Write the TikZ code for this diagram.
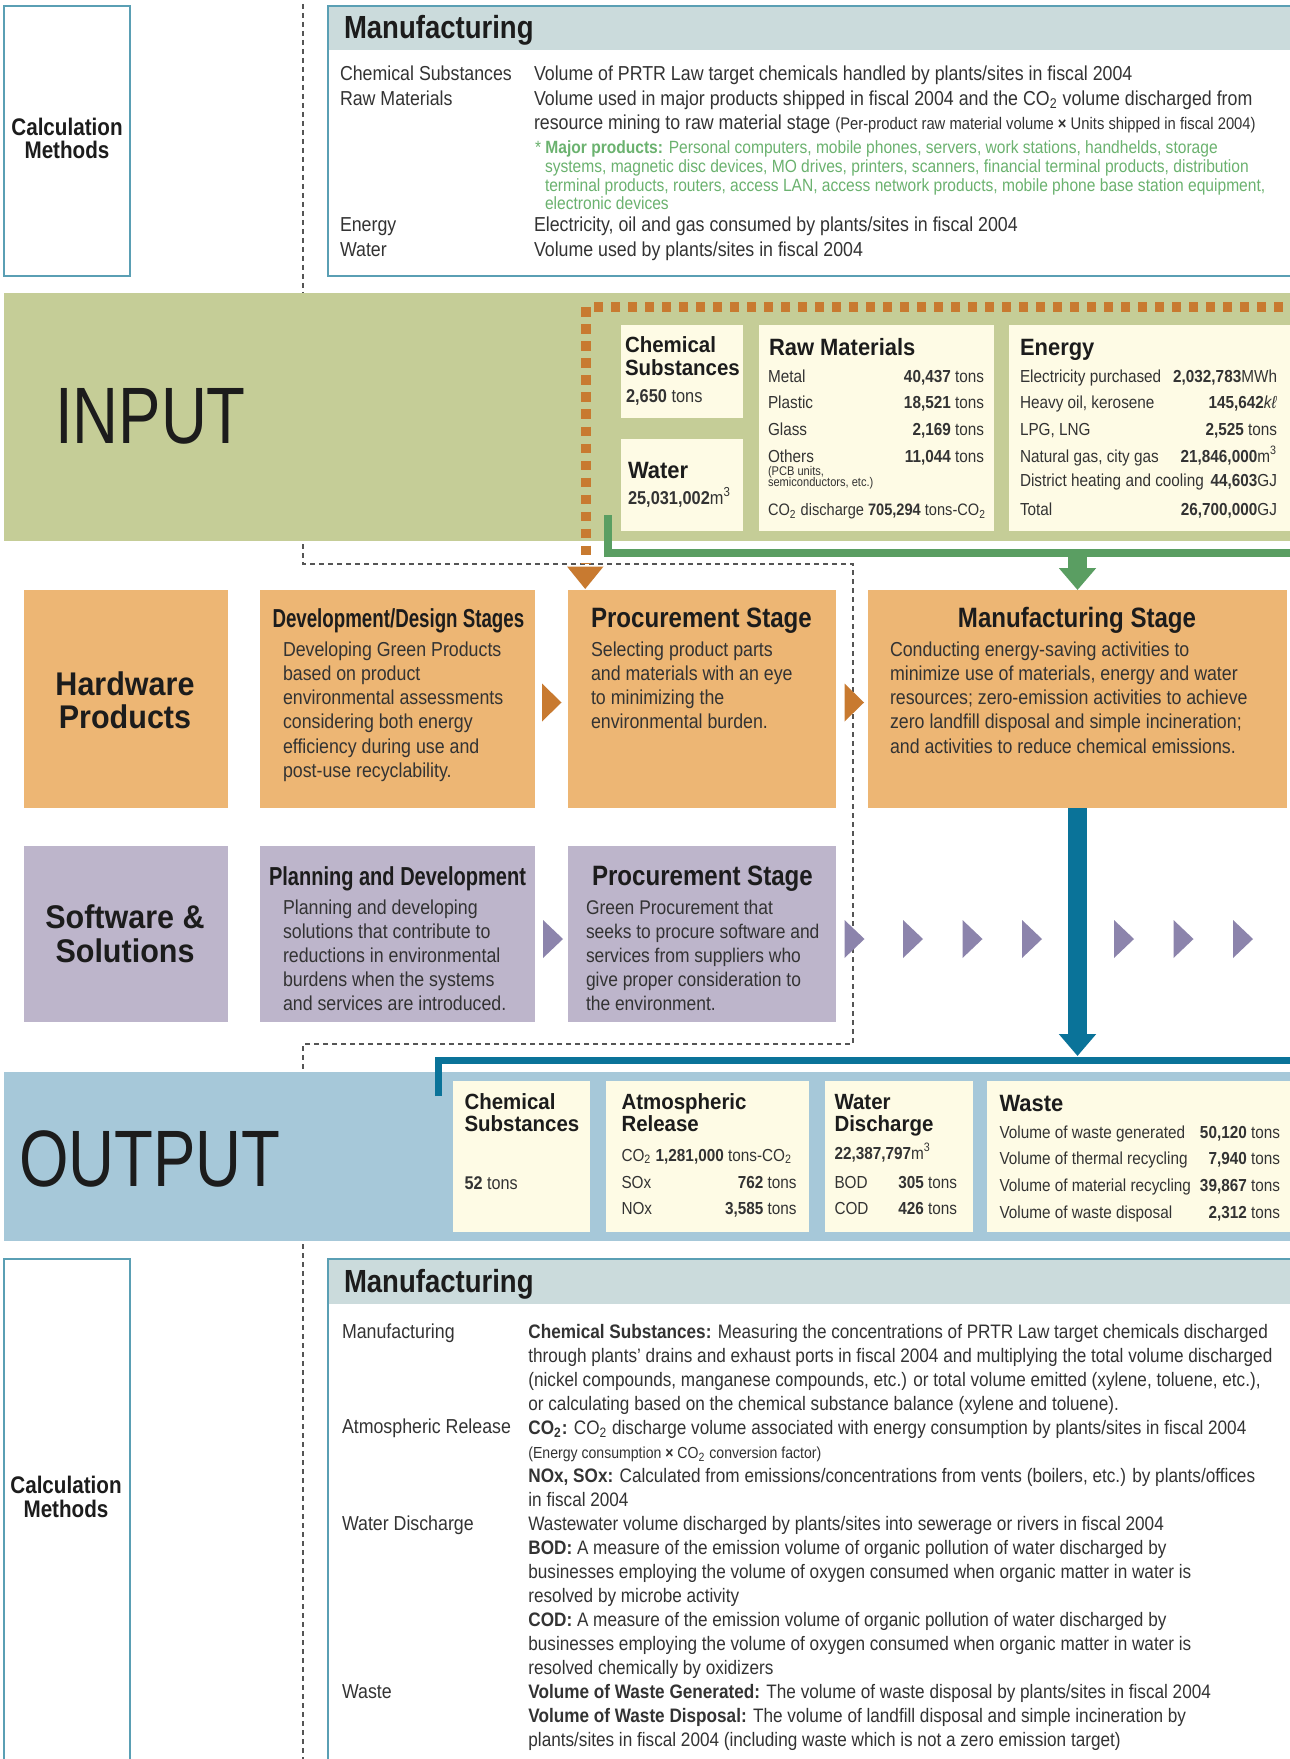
\documentclass[tikz,border=0pt]{standalone}
\usepackage{fontspec}
\setmainfont{Liberation Sans}[FakeStretch=0.88]
\newfontfamily\hdfont{Liberation Sans}[FakeStretch=0.86]
\newfontfamily\bxfont{Liberation Sans}[FakeStretch=0.93]
\newfontfamily\cnfont{Liberation Sans}[FakeStretch=0.72]
\newfontfamily\cnbfont{Liberation Sans}[FakeStretch=0.77]
\newfontfamily\bigfont{Liberation Sans}[FakeStretch=0.795]
\usetikzlibrary{arrows.meta}
\definecolor{cTeal}{HTML}{5A9FB4}
\definecolor{cHead}{HTML}{CBDBDC}
\definecolor{cIn}{HTML}{C5CD97}
\definecolor{cOr}{HTML}{C87A30}
\definecolor{cCream}{HTML}{FEFBE5}
\definecolor{cGreen}{HTML}{5A9E62}
\definecolor{cGreenTxt}{HTML}{6BB26F}
\definecolor{cOrBox}{HTML}{EDB674}
\definecolor{cPur}{HTML}{BDB5CB}
\definecolor{cPurA}{HTML}{8C84AC}
\definecolor{cBlue}{HTML}{0A7399}
\definecolor{cOut}{HTML}{A6C8D9}
\definecolor{cDash}{HTML}{555555}
\definecolor{cTxt}{HTML}{333333}
\definecolor{cHd}{HTML}{1C1C1C}
\begin{document}
\begin{tikzpicture}[x=0.5pt,y=-0.5pt,
  every node/.style={inner sep=0pt,outer sep=0pt},
  rbox/.style 2 args={anchor=north west,minimum width={#1*0.5pt},minimum height={#2*0.5pt}},
  tx/.style={anchor=base west,font=\fontsize{10.1}{12}\selectfont,text=cTxt},
  btx/.style={anchor=base west,font=\fontsize{9.75}{12}\selectfont,text=cTxt},
  gtx/.style={anchor=base west,font=\fontsize{8.85}{10}\selectfont,text=cGreenTxt},
  row/.style={anchor=base west,font=\fontsize{8.7}{10}\selectfont,text=cTxt},
  rowr/.style={anchor=base east,font=\fontsize{8.7}{10}\selectfont,text=cTxt},
  small/.style={anchor=base west,font=\fontsize{6.3}{7}\selectfont,text=cTxt},
  hd/.style={anchor=base west,font=\bxfont\bfseries\fontsize{11}{11}\selectfont,text=cHd},
  hdl/.style={anchor=base west,font=\bxfont\bfseries\fontsize{11.8}{11.8}\selectfont,text=cHd},
  mhd/.style={anchor=base west,font=\hdfont\bfseries\fontsize{16}{16}\selectfont,text=cHd},
  shd/.style={anchor=base west,font=\hdfont\bfseries\fontsize{14}{14}\selectfont,text=cHd},
  chd/.style={anchor=base west,font=\cnfont\bfseries\fontsize{13}{13}\selectfont,text=cHd},
  cat/.style={anchor=base,font=\bxfont\bfseries\fontsize{16.4}{16.4}\selectfont,text=cHd},
  calc/.style={anchor=base,font=\hdfont\bfseries\fontsize{12}{12}\selectfont,text=cHd},
  big/.style={anchor=base west,font=\bigfont\fontsize{40}{40}\selectfont,text=cHd},
  val/.style={anchor=base west,font=\fontsize{9.3}{11}\selectfont,text=cTxt},
  dashline/.style={cDash,line width=0.6pt,dash pattern=on 2.5pt off 2pt},
  odots/.style={cOr,line width=5pt,dash pattern=on 4.75pt off 3.75pt},
  fatarrow/.style={line width=9.5pt,-{Triangle[length=11pt,width=18pt]}}
]
\useasboundingbox (0,0) rectangle (1289,1759);
\fill[white] (0,0) rectangle (1289,1759);

% dashed separator
\coordinate (d0) at (303,-5);
\coordinate (d1) at (303,564);
\coordinate (d2) at (853,564);
\coordinate (d3) at (853,1044);
\coordinate (d4) at (303,1044);
\coordinate (d5) at (303,1765);
\draw[dashline] (d0) -- (d1) -- (d2) -- (d3) -- (d4) -- (d5);

% ===== top calculation methods =====
\node[rbox={126}{270},draw=cTeal,fill=white,line width=0.8pt] (calc1) at (4,6) {};
\node[calc] (calc1a) at (67,136) {Calculation};
\node[calc] (calc1b) at (67,159) {Methods};

\fill[cHead] (328,6) rectangle (1330,50);
\node[rbox={1000}{270},draw=cTeal,line width=0.8pt] (topm) at (328,6) {};
\node[mhd] (topmh) at (344,39) {Manufacturing};
\node[tx] (l1) at (340,81) {Chemical Substances};
\node[tx] (l2) at (340,105.5) {Raw Materials};
\node[tx] (l3) at (340,232) {Energy};
\node[tx] (l4) at (340,257) {Water};
\node[tx] (r1) at (534,81) {Volume of PRTR Law target chemicals handled by plants/sites in fiscal 2004};
\node[tx] (r2) at (534,105.5) {Volume used in major products shipped in fiscal 2004 and the CO\textsubscript{2} volume discharged from};
\node[tx] (r3) at (534,130) {resource mining to raw material stage {\fontsize{8.4}{10}\selectfont (Per-product raw material volume \textbf{×} Units shipped in fiscal 2004)}};
\node[gtx] (g1) at (535,154) {* \textbf{Major products:} Personal computers, mobile phones, servers, work stations, handhelds, storage};
\node[gtx] (g2) at (545,173) {systems, magnetic disc devices, MO drives, printers, scanners, financial terminal products, distribution};
\node[gtx] (g3) at (545,192) {terminal products, routers, access LAN, access network products, mobile phone base station equipment,};
\node[gtx] (g4) at (545,210) {electronic devices};
\node[tx] (r4) at (534,232) {Electricity, oil and gas consumed by plants/sites in fiscal 2004};
\node[tx] (r5) at (534,257) {Volume used by plants/sites in fiscal 2004};

% ===== INPUT band =====
\node[rbox={1300}{248},fill=cIn] (inband) at (4,293) {};
\node[big] (inputt) at (55,444) {INPUT};
\coordinate (o0) at (1300,307.5);
\coordinate (o1) at (586,307.5);
\coordinate (o2) at (586,563);
\draw[odots] (o0) -- (o1) -- (o2);

\node[rbox={122}{93},fill=cCream] (inchem) at (620.5,325) {};
\node[rbox={122}{92},fill=cCream] (inwater) at (620.5,439) {};
\node[rbox={235}{206},fill=cCream] (inraw) at (758.5,325) {};
\node[rbox={320}{206},fill=cCream] (inen) at (1008.5,325) {};

\node[hd] (ich1) at (625,353) {Chemical};
\node[hd] (ich2) at (625,375.5) {Substances};
\node[val] (ich3) at (626,402.5) {\textbf{2,650} tons};
\node[hdl] (iw1) at (628,479) {Water};
\node[val] (iw2) at (628,504) {\textbf{25,031,002}m\textsuperscript{3}};

\node[hdl] (irh) at (769,356) {Raw Materials};
\node[row] (ir1) at (768,382.7) {Metal};
\node[rowr] (ir1v) at (984,382.7) {\textbf{40,437} tons};
\node[row] (ir2) at (768,409) {Plastic};
\node[rowr] (ir2v) at (984,409) {\textbf{18,521} tons};
\node[row] (ir3) at (768,435.7) {Glass};
\node[rowr] (ir3v) at (984,435.7) {\textbf{2,169} tons};
\node[row] (ir4) at (768,462) {Others};
\node[rowr] (ir4v) at (984,462) {\textbf{11,044} tons};
\node[small] (ir5) at (768,475.5) {(PCB units,};
\node[small] (ir6) at (768,487) {semiconductors, etc.)};
\node[row,font=\fontsize{8.3}{10}\selectfont] (ir7) at (768,515.7) {CO\textsubscript{2} discharge \textbf{705,294} tons-CO\textsubscript{2}};

\node[hdl] (ieh) at (1020,356) {Energy};
\node[row] (ie1) at (1020,382.7) {Electricity purchased};
\node[rowr] (ie1v) at (1277,382.7) {\textbf{2,032,783}MWh};
\node[row] (ie2) at (1020,409) {Heavy oil, kerosene};
\node[rowr] (ie2v) at (1277,409) {\textbf{145,642}\textit{kℓ}};
\node[row] (ie3) at (1020,435.7) {LPG, LNG};
\node[rowr] (ie3v) at (1277,435.7) {\textbf{2,525} tons};
\node[row] (ie4) at (1020,462) {Natural gas, city gas};
\node[rowr] (ie4v) at (1277,462) {\textbf{21,846,000}m\textsuperscript{3}};
\node[row] (ie5) at (1020,487) {District heating and cooling};
\node[rowr] (ie5v) at (1277,487) {\textbf{44,603}GJ};
\node[row] (ie6) at (1020,515.7) {Total};
\node[rowr] (ie6v) at (1277,515.7) {\textbf{26,700,000}GJ};

% green line
\coordinate (gA) at (607.5,515);
\coordinate (gB) at (607.5,552.5);
\coordinate (gC) at (1300,552.5);
\draw[cGreen,line width=4pt] (gA) -- (gB) -- (gC);

% ===== Hardware row =====
\node[rbox={203.5}{218},fill=cOrBox] (hw) at (24,590) {};
\node[rbox={275}{218},fill=cOrBox] (dev) at (260,590) {};
\node[rbox={268.5}{218},fill=cOrBox] (proc) at (567.5,590) {};
\node[rbox={419}{218},fill=cOrBox] (mfg) at (868,590) {};

\coordinate (gJ) at (mfg.north |- gB);
\draw[cGreen,fatarrow] (gJ) -- (mfg.north);
\fill[cOr] (567,566.5) -- (603.5,566.5) -- (585.2,589) -- cycle;

\node[cat] (hw1) at (125,695) {Hardware};
\node[cat] (hw2) at (125,728.5) {Products};

\node[chd] (devh) at (272.5,627) {Development/Design Stages};
\foreach \t [count=\i from 0] in {{Developing Green Products},{based on product},{environmental assessments},{considering both energy},{efficiency during use and},{post-use recyclability.}}
  \node[tx] (dev\i) at (283,{656+\i*24.3}) {\t};

\node[shd] (proch) at (591,627) {Procurement Stage};
\foreach \t [count=\i from 0] in {{Selecting product parts},{and materials with an eye},{to minimizing the},{environmental burden.}}
  \node[tx] (proc\i) at (591,{656+\i*24.3}) {\t};

\node[shd,anchor=base] (mfgh) at (1077,627) {Manufacturing Stage};
\foreach \t [count=\i from 0] in {{Conducting energy-saving activities to},{minimize use of materials, energy and water},{resources; zero-emission activities to achieve},{zero landfill disposal and simple incineration;},{and activities to reduce chemical emissions.}}
  \node[tx] (mfg\i) at (890,{656+\i*24.3}) {\t};

\fill[cOr] (542,683.5) -- (561.5,702.5) -- (542,721.5) -- cycle;
\fill[cOr] (844.5,683.5) -- (864,702.5) -- (844.5,721.5) -- cycle;

% ===== Software row =====
\node[rbox={203.5}{175.5},fill=cPur] (sw) at (24,846) {};
\node[rbox={275}{175.5},fill=cPur] (plan) at (260,846) {};
\node[rbox={268.5}{175.5},fill=cPur] (sproc) at (567.5,846) {};

\node[cat] (sw1) at (125,928.5) {Software \&};
\node[cat] (sw2) at (125,962.5) {Solutions};

\node[chd,font=\cnbfont\bfseries\fontsize{13}{13}\selectfont] (planh) at (269,885) {Planning and Development};
\foreach \t [count=\i from 0] in {{Planning and developing},{solutions that contribute to},{reductions in environmental},{burdens when the systems},{and services are introduced.}}
  \node[tx] (plan\i) at (283,{914+\i*24}) {\t};

\node[shd] (sproch) at (592,885) {Procurement Stage};
\foreach \t [count=\i from 0] in {{Green Procurement that},{seeks to procure software and},{services from suppliers who},{give proper consideration to},{the environment.}}
  \node[tx,font=\fontsize{9.9}{12}\selectfont] (sproc\i) at (586,{914+\i*24}) {\t};

\foreach \x in {543,844.5,903,962.5,1022,1114,1173.5,1233}
  \fill[cPurA] (\x,920) -- (\x+20,939) -- (\x,958) -- cycle;

% blue arrow
\coordinate (bTip) at (mfg.south |- 0,1056);
\draw[cBlue,fatarrow] (mfg.south) -- (bTip);

% ===== OUTPUT band =====
\node[rbox={1300}{169},fill=cOut] (outband) at (4,1072) {};
\node[big] (outputt) at (19,1186) {OUTPUT};
\coordinate (bA) at (438,1096);
\coordinate (bB) at (438,1060.5);
\coordinate (bC) at (1300,1060.5);
\draw[cBlue,line width=3.5pt] (bA) -- (bB) -- (bC);

\node[rbox={137}{151},fill=cCream] (ochem) at (453,1080.5) {};
\node[rbox={203}{151},fill=cCream] (oatm) at (606,1080.5) {};
\node[rbox={148.5}{151},fill=cCream] (owat) at (824.5,1080.5) {};
\node[rbox={330}{151},fill=cCream] (owaste) at (986.5,1080.5) {};

\node[hd] (oc1) at (464.5,1109) {Chemical};
\node[hd] (oc2) at (464.5,1131.5) {Substances};
\node[row,font=\fontsize{9.2}{11}\selectfont] (oc3) at (464.5,1189) {\textbf{52} tons};

\node[hd] (oa1) at (621.5,1109) {Atmospheric};
\node[hd] (oa2) at (621.5,1131.5) {Release};
\node[row] (oa3) at (621.5,1161) {CO\textsubscript{2} \textbf{1,281,000} tons-CO\textsubscript{2}};
\node[row] (oa4) at (621.5,1188) {SOx};
\node[rowr] (oa4v) at (796.5,1188) {\textbf{762} tons};
\node[row] (oa5) at (621.5,1214) {NOx};
\node[rowr] (oa5v) at (796.5,1214) {\textbf{3,585} tons};

\node[hd] (ow1) at (834.5,1109) {Water};
\node[hd] (ow2) at (834.5,1131.5) {Discharge};
\node[row] (ow3) at (834.5,1159) {\textbf{22,387,797}m\textsuperscript{3}};
\node[row] (ow4) at (834.5,1188) {BOD};
\node[rowr] (ow4v) at (957,1188) {\textbf{305} tons};
\node[row] (ow5) at (834.5,1214) {COD};
\node[rowr] (ow5v) at (957,1214) {\textbf{426} tons};

\node[hdl] (ox1) at (999.5,1111) {Waste};
\node[row] (ox2) at (999.5,1138.6) {Volume of waste generated};
\node[rowr] (ox2v) at (1280,1138.6) {\textbf{50,120} tons};
\node[row] (ox3) at (999.5,1164.5) {Volume of thermal recycling};
\node[rowr] (ox3v) at (1280,1164.5) {\textbf{7,940} tons};
\node[row] (ox4) at (999.5,1191) {Volume of material recycling};
\node[rowr] (ox4v) at (1280,1191) {\textbf{39,867} tons};
\node[row] (ox5) at (999.5,1218) {Volume of waste disposal};
\node[rowr] (ox5v) at (1280,1218) {\textbf{2,312} tons};

% ===== bottom calculation methods =====
\node[rbox={126}{520},draw=cTeal,fill=white,line width=0.8pt] (calc2) at (4,1259) {};
\node[calc] (calc2a) at (66,1493) {Calculation};
\node[calc] (calc2b) at (66,1517) {Methods};

\fill[cHead] (328,1259) rectangle (1330,1304);
\node[rbox={1000}{520},draw=cTeal,line width=0.8pt] (botm) at (328,1259) {};
\node[mhd] (botmh) at (344,1292) {Manufacturing};
\node[tx] (bl1) at (342,1338.3) {Manufacturing};
\node[tx] (bl2) at (342,1433.7) {Atmospheric Release};
\node[tx] (bl3) at (342,1530.1) {Water Discharge};
\node[tx] (bl4) at (342,1698.4) {Waste};
\foreach \t [count=\i from 0] in {
 {\textbf{Chemical Substances:} Measuring the concentrations of PRTR Law target chemicals discharged},
 {through plants’ drains and exhaust ports in fiscal 2004 and multiplying the total volume discharged},
 {(nickel compounds, manganese compounds, etc.) or total volume emitted (xylene, toluene, etc.),},
 {or calculating based on the chemical substance balance (xylene and toluene).},
 {\textbf{CO\textsubscript{2}:} CO\textsubscript{2} discharge volume associated with energy consumption by plants/sites in fiscal 2004},
 {{\fontsize{8}{10}\selectfont (Energy consumption \textbf{×} CO\textsubscript{2} conversion factor)}},
 {\textbf{NOx, SOx:} Calculated from emissions/concentrations from vents (boilers, etc.) by plants/offices},
 {in fiscal 2004},
 {Wastewater volume discharged by plants/sites into sewerage or rivers in fiscal 2004},
 {\textbf{BOD:} A measure of the emission volume of organic pollution of water discharged by},
 {businesses employing the volume of oxygen consumed when organic matter in water is},
 {resolved by microbe activity},
 {\textbf{COD:} A measure of the emission volume of organic pollution of water discharged by},
 {businesses employing the volume of oxygen consumed when organic matter in water is},
 {resolved chemically by oxidizers},
 {\textbf{Volume of Waste Generated:} The volume of waste disposal by plants/sites in fiscal 2004},
 {\textbf{Volume of Waste Disposal:} The volume of landfill disposal and simple incineration by},
 {plants/sites in fiscal 2004 (including waste which is not a zero emission target)}}
  \node[btx] (bt\i) at (528.4,{1338.3+\i*24.02}) {\t};
\end{tikzpicture}
\end{document}
